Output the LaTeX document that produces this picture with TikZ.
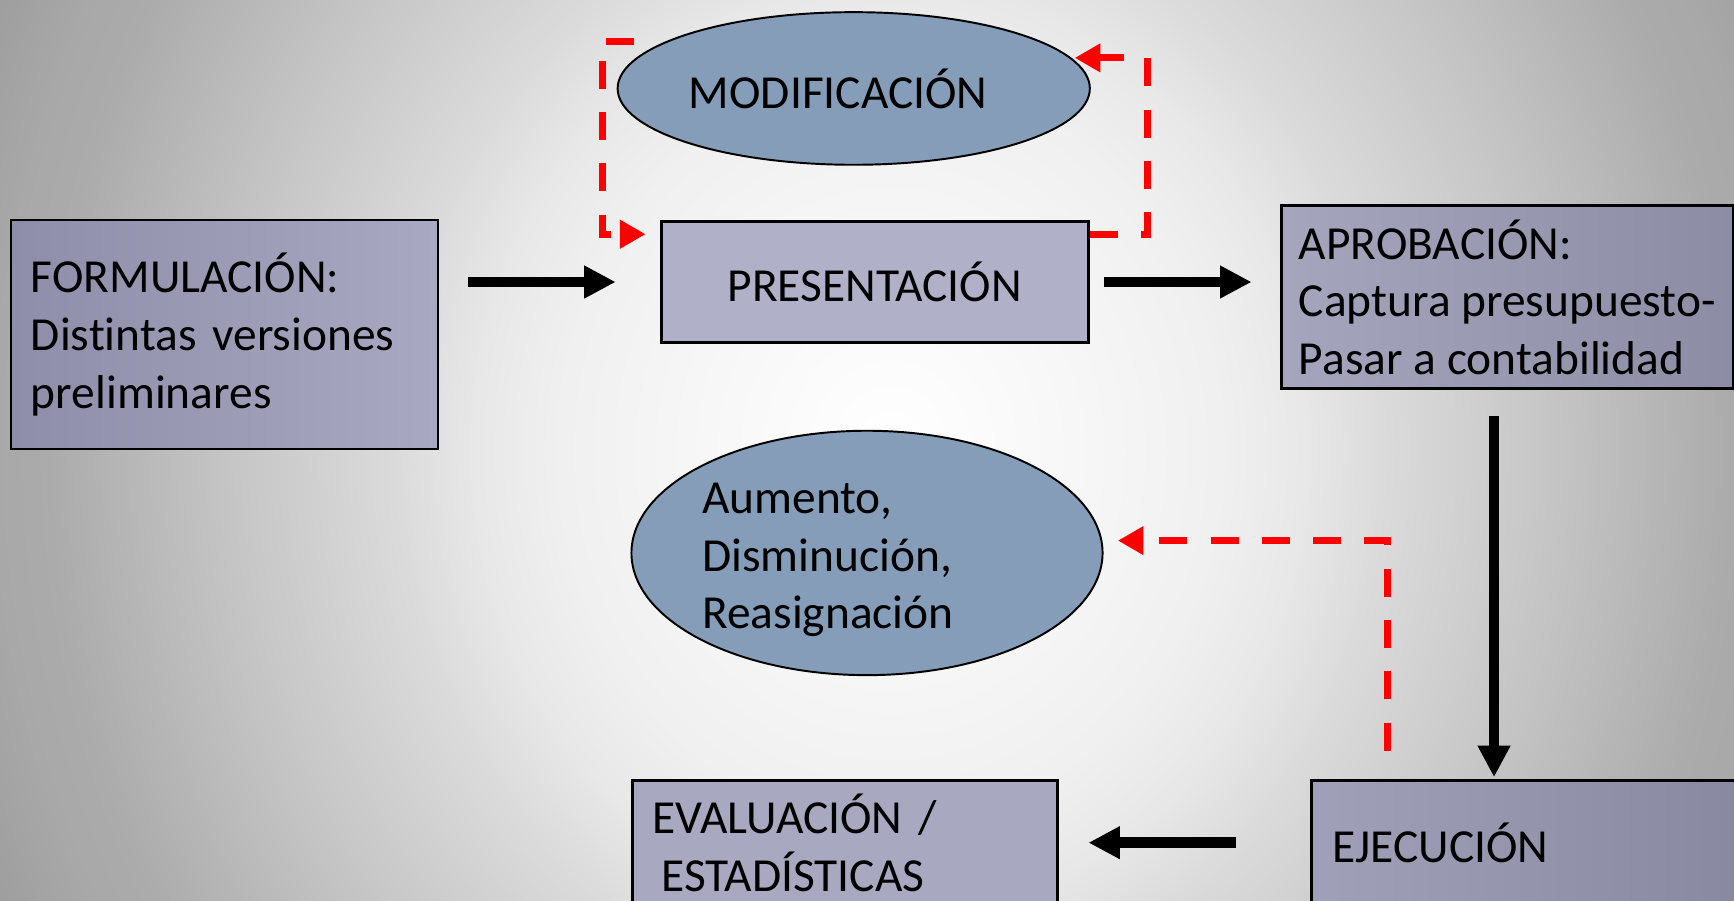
\documentclass[tikz,border=0pt]{standalone}
\usepackage{fontspec}
\setmainfont[Ligatures=CommonOff]{Carlito}
\usetikzlibrary{shapes,arrows.meta}
\definecolor{formL}{RGB}{142,142,170}
\definecolor{formR}{RGB}{168,168,194}
\definecolor{presfill}{RGB}{176,176,200}
\definecolor{aprobL}{RGB}{165,165,190}
\definecolor{aprobR}{RGB}{140,140,165}
\definecolor{ejecL}{RGB}{160,160,184}
\definecolor{ejecR}{RGB}{136,136,160}
\definecolor{evalfill}{RGB}{168,168,192}
\definecolor{blobfill}{RGB}{133,157,185}
\pgfdeclareradialshading{slideglow}{\pgfpointorigin}{color(0bp)=(white); color(4.5bp)=(black!3); color(8.5bp)=(black!6); color(10.5bp)=(black!9); color(12.5bp)=(black!14); color(15.5bp)=(black!20); color(17bp)=(black!23); color(21.5bp)=(black!33); color(22.75bp)=(black!34); color(25bp)=(black!38); color(50bp)=(black!40)}
\newcommand{\diagfont}{\fontsize{12.2pt}{14.8pt}\selectfont}
\tikzset{
    block/.style = {draw, rectangle, line width=0.7pt, font=\diagfont, align=left},
    blob/.style = {draw, ellipse, line width=0.5pt, fill=blobfill, font=\diagfont,
        inner sep=0pt, text width=2.98cm, align=left},
    flow/.style = {draw, line width=2.7pt, -{Triangle[length=8.1pt,width=7.9pt]}},
    feedback/.style = {draw, red, line width=1.8pt, dash pattern=on 7.2pt off 6pt,
        -{Triangle[length=6.6pt,width=7pt]}}
}

\begin{document}
\begin{tikzpicture}
        \useasboundingbox (0,0) rectangle (15.68,-8.14);
        \clip (0,0) rectangle (15.68,-8.14);
        \shade [shading=slideglow] (8.05,-4.07) ellipse [x radius=8.86, y radius=9.94];
        \node [block, fill=presfill, minimum width=3.86cm, minimum height=1.10cm] (presentacion) at (7.91,-2.55) {PRESENTACIÓN};
        \node [blob, above of=presentacion, node distance=1.75cm, xshift=-0.19cm, minimum width=4.27cm, minimum height=1.38cm] (modificacion) {MODIFICACIÓN};
        \node [block, left of=presentacion, node distance=5.88cm, yshift=-0.475cm, left color=formL, right color=formR,
            minimum width=3.86cm, minimum height=2.07cm, text width=3.50cm, inner xsep=0.18cm] (formulacion)
            {FORMULACIÓN:\\ Distintas versiones\\ preliminares};
        \node [block, right of=presentacion, node distance=5.72cm, yshift=-0.135cm, left color=aprobL, right color=aprobR,
            minimum width=4.08cm, minimum height=1.65cm] (aprobacion)
            {APROBACIÓN:\\ Captura presupuesto-\\ Pasar a contabilidad};
        \node [blob, below of=presentacion, node distance=2.45cm, xshift=-0.07cm, minimum width=4.26cm, minimum height=2.21cm,
            text height=11.5pt] (cambios)
            {Aumento,\\ Disminución,\\ Reasignación};
        \node [block, below of=aprobacion, node distance=4.935cm, xshift=0.20cm, left color=ejecL, right color=ejecR,
            minimum width=3.94cm, minimum height=1.12cm, text width=3.56cm, inner xsep=0.19cm] (ejecucion) {EJECUCIÓN};
        \node [block, left of=ejecucion, node distance=6.19cm, fill=evalfill,
            minimum width=3.84cm, minimum height=1.12cm, text width=3.48cm, inner xsep=0.18cm] (evaluacion)
            {EVALUACIÓN /\\ \hspace*{0.08cm}ESTADÍSTICAS};
        % main flow
        \draw [flow, shorten <=0.26cm, shorten >=0.40cm] (formulacion.east |- presentacion.west) -- (presentacion.west);
        \draw [flow, shorten <=0.13cm, shorten >=0.26cm] (presentacion.east) -- (aprobacion.west |- presentacion.east);
        \draw [flow, shorten <=0.24cm, shorten >=0.02cm] ([xshift=-0.12cm]aprobacion.south) -- ([xshift=-0.12cm]aprobacion.south |- ejecucion.north);
        \draw [flow, shorten <=0.67cm, shorten >=0.27cm] (ejecucion.west) -- (evaluacion.east);
        % feedback loops
        \draw [feedback, shorten >=0.03cm] ([yshift=-0.13cm]presentacion.north east) -- ++(0.52,0) |- (modificacion.8);
        \draw [feedback, shorten >=0.13cm] ([xshift=-0.28cm]modificacion.166) -- ++(-0.29,0) |- ([yshift=-0.13cm]presentacion.north west);
        \draw [feedback, shorten >=0.14cm] ([xshift=0.70cm,yshift=0.26cm]ejecucion.north west) |- (cambios.3);
\end{tikzpicture}
\end{document}
